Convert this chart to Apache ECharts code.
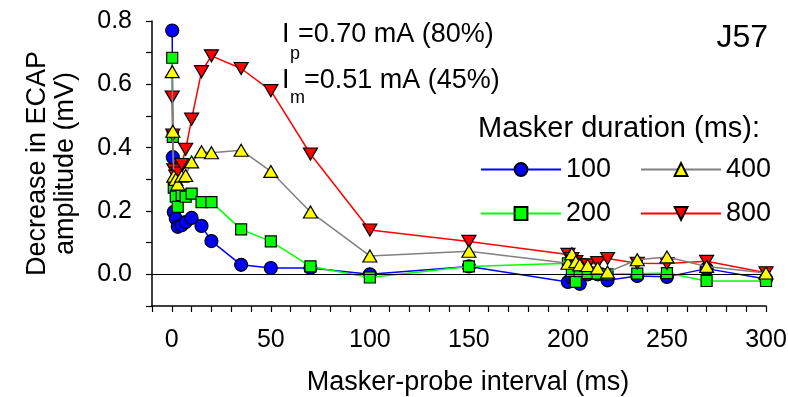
<!DOCTYPE html>
<html><head><meta charset="utf-8">
<script src="https://cdn.jsdelivr.net/npm/echarts/dist/echarts.min.js"></script>
<style>html,body{margin:0;padding:0;background:#fff}#c{width:788px;height:397px}</style>
</head><body><div id="c"></div>
<script>
// Masker-probe interval (ms)
const intervals = [0.2, 0.5, 1, 2, 3, 5, 7, 10, 15, 20, 35, 50, 70, 100, 150, 200, 202, 204, 206, 210, 215, 220, 235, 250, 270, 300];
// Decrease in ECAP amplitude (mV) per masker duration
const dur100 = [0.77, 0.37, 0.197, 0.176, 0.15, 0.155, 0.165, 0.178, 0.153, 0.105, 0.03, 0.02, 0.02, 0.0, 0.025, -0.024, -0.01, -0.02, -0.03, 0.0, 0.0, -0.019, -0.005, -0.008, 0.018, -0.015];
const dur200 = [0.684, 0.434, 0.274, 0.245, 0.213, 0.25, 0.245, 0.255, 0.228, 0.228, 0.142, 0.104, 0.025, -0.01, 0.025, 0.035, 0.01, -0.024, 0.01, 0.004, 0.002, 0.0, 0.002, 0.004, -0.021, -0.021];
const dur400 = [0.64, 0.452, 0.31, 0.30, 0.285, 0.31, 0.312, 0.355, 0.387, 0.384, 0.392, 0.325, 0.197, 0.058, 0.073, 0.035, 0.065, 0.04, 0.03, 0.028, 0.02, 0.007, 0.046, 0.055, 0.025, 0.004];
const dur800 = [0.56, 0.44, 0.33, 0.31, 0.32, 0.347, 0.395, 0.49, 0.64, 0.69, 0.65, 0.58, 0.38, 0.14, 0.104, 0.063, 0.05, 0.04, 0.03, 0.03, 0.037, 0.05, 0.035, 0.034, 0.041, 0.005];
const xTickLabels = [0, 50, 100, 150, 200, 250, 300];
const yTickLabels = ['0.0', '0.2', '0.4', '0.6', '0.8'];
const legendNames = ['100', '200', '400', '800'];

const FONT = 'Liberation Sans, Arial, sans-serif';
const pairs = ys => intervals.map((x, i) => [x, ys[i]]);

const chart = echarts.init(document.getElementById('c'), null, {renderer: 'canvas'});
const mkSeries = (name, ys, symbol, size, fill, line, rotate, z) => ({
  name, type: 'line', data: pairs(ys), symbol, symbolSize: size, symbolRotate: rotate || 0,
  showAllSymbol: true, z,
  itemStyle: {color: fill, borderColor: '#000', borderWidth: 1.2},
  lineStyle: {color: line, width: 1.5},
  emphasis: {disabled: true}, animation: false
});
const s100 = mkSeries(legendNames[0], dur100, 'circle', 13, '#0000ff', '#0000ff', 0, 2);
s100.markLine = {silent: true, symbol: 'none', animation: false, label: {show: false},
  lineStyle: {color: '#000', width: 1, type: 'solid'}, data: [{yAxis: 0}]};
const s200 = mkSeries(legendNames[1], dur200, 'rect', 11, '#00ff00', '#00ff00', 0, 3);
const s800 = mkSeries(legendNames[3], dur800, 'triangle', [14, 12], '#ff0000', '#ff0000', 180, 4);
const s400 = mkSeries(legendNames[2], dur400, 'triangle', [14, 12], '#ffff00', '#808080', 0, 5);

const legendCommon = {
  orient: 'horizontal', itemWidth: 80, itemHeight: 16, itemGap: 29,
  textStyle: {fontFamily: FONT, fontSize: 27, color: '#000'},
  selectedMode: false
};

chart.setOption({
  animation: false,
  backgroundColor: '#fff',
  grid: {left: 152, right: 22, top: 21, bottom: 91, containLabel: false, outerBoundsMode: 'none'},
  xAxis: {
    type: 'value', min: -10, max: 300, interval: 10,
    name: 'Masker-probe interval (ms)', nameLocation: 'middle', nameGap: 63,
    nameTextStyle: {fontFamily: FONT, fontSize: 27, color: '#000', padding: [0, 0, 0, 18]},
    axisLine: {show: true, onZero: false, lineStyle: {color: '#000', width: 1.5}},
    axisTick: {show: true, inside: false, length: 6, lineStyle: {color: '#000', width: 1.2}},
    axisLabel: {margin: 22, fontFamily: FONT, fontSize: 25, color: '#000',
      formatter: v => xTickLabels.includes(Math.round(v)) ? String(Math.round(v)) : ''},
    splitLine: {show: false}
  },
  yAxis: {
    type: 'value', min: -0.1, max: 0.8, interval: 0.1,
    name: 'Decrease in ECAP\namplitude (mV)', nameLocation: 'middle', nameGap: 72,
    nameTextStyle: {fontFamily: FONT, fontSize: 27, color: '#000', lineHeight: 28},
    axisLine: {show: true, onZero: false, lineStyle: {color: '#000', width: 1.5}},
    axisTick: {show: true, inside: false, length: 6, lineStyle: {color: '#000', width: 1.2}},
    axisLabel: {margin: 20, fontFamily: FONT, fontSize: 25, color: '#000',
      formatter: v => { const t = (Math.round(v * 10) / 10).toFixed(1); return yTickLabels.includes(t) ? t : ''; }},
    splitLine: {show: false}
  },
  legend: [
    Object.assign({}, legendCommon, {data: [legendNames[0], legendNames[2]], left: 475, top: 151}),
    Object.assign({}, legendCommon, {data: [legendNames[1], legendNames[3]], left: 475, top: 195})
  ],
  graphic: [
    {type: 'text', left: 478, top: 114, style: {text: 'Masker duration (ms):', font: '29px ' + FONT, fill: '#000'}},
    {type: 'text', left: 282, top: 21, style: {text: 'I', font: '27px ' + FONT, fill: '#000'}},
    {type: 'text', left: 290, top: 45, style: {text: 'p', font: '18px ' + FONT, fill: '#000'}},
    {type: 'text', left: 298, top: 21, style: {text: '=0.70 mA (80%)', font: '27px ' + FONT, fill: '#000'}},
    {type: 'text', left: 282, top: 67, style: {text: 'I', font: '27px ' + FONT, fill: '#000'}},
    {type: 'text', left: 290, top: 89, style: {text: 'm', font: '18px ' + FONT, fill: '#000'}},
    {type: 'text', left: 304, top: 67, style: {text: '=0.51 mA (45%)', font: '27px ' + FONT, fill: '#000'}},
    {type: 'text', right: 20, top: 22, style: {text: 'J57', font: '32px ' + FONT, fill: '#000'}}
  ],
  series: [s100, s200, s800, s400]
});
</script></body></html>
